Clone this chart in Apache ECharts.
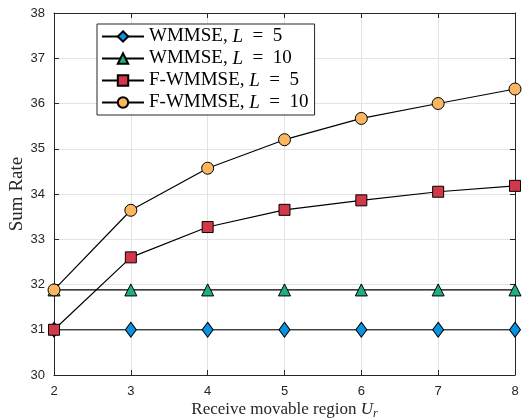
<!DOCTYPE html>
<html>
<head>
<meta charset="utf-8">
<script src="https://cdn.jsdelivr.net/npm/echarts@6/dist/echarts.min.js"></script>
<style>
html,body{margin:0;padding:0;background:#fff;}
#chart{width:525px;height:418px;}
</style>
</head>
<body>
<div id="chart"></div>
<script>
var xValues = [2, 3, 4, 5, 6, 7, 8];
var wmmseL5 = [31.0, 31.0, 31.0, 31.0, 31.0, 31.0, 31.0];
var wmmseL10 = [31.88, 31.88, 31.88, 31.88, 31.88, 31.88, 31.88];
var fwmmseL5 = [31.0, 32.6, 33.27, 33.65, 33.86, 34.05, 34.18];
var fwmmseL10 = [31.88, 33.64, 34.57, 35.2, 35.67, 36.0, 36.32];
var seriesNames = ['WMMSE, L = 5', 'WMMSE, L = 10', 'F-WMMSE, L = 5', 'F-WMMSE, L = 10'];

function pairs(ys) {
    return xValues.map(function (x, i) { return [x, ys[i]]; });
}

var serif = 'Liberation Serif';
var tickFont = {color: '#262626', fontSize: 13, fontFamily: 'Liberation Sans'};

function mk(name, ys, symbol, size, color) {
    return {
        name: name,
        type: 'line',
        data: pairs(ys),
        symbol: symbol,
        symbolSize: size,
        showAllSymbol: true,
        lineStyle: {color: '#000', width: 1.2},
        itemStyle: {color: color, borderColor: '#000', borderWidth: 1},
        emphasis: {disabled: true},
        z: 3
    };
}

var myChart = echarts.init(document.getElementById('chart'), null, {renderer: 'canvas'});
myChart.setOption({
    animation: false,
    backgroundColor: '#fff',
    grid: {left: 54, right: 10, top: 13, bottom: 43, containLabel: false, outerBoundsMode: 'none'},
    legend: {
        left: 97, top: 24,
        orient: 'vertical',
        backgroundColor: '#fff',
        borderColor: '#262626',
        borderWidth: 1,
        borderRadius: 0,
        padding: [3, 6, 3, 4],
        itemGap: 3,
        itemWidth: 42,
        itemHeight: 13,
        data: seriesNames,
        formatter: function (n) {
            var p = n.split('L = ');
            return '{t|' + p[0] + '}{i|L}{t|\u2002=\u2002' + p[1] + '}';
        },
        textStyle: {
            rich: {
                t: {fontFamily: serif, fontSize: 19, color: '#000'},
                i: {fontFamily: serif, fontSize: 19, fontStyle: 'italic', color: '#000'}
            }
        }
    },
    xAxis: [{
        type: 'value', min: 2, max: 8, interval: 1,
        name: '{t|Receive movable region }{i|U}{s|r}',
        nameLocation: 'middle', nameGap: 25, nameMoveOverlap: false,
        nameTextStyle: {
            rich: {
                t: {fontFamily: serif, fontSize: 17, color: '#262626'},
                i: {fontFamily: serif, fontSize: 17, fontStyle: 'italic', color: '#262626'},
                s: {fontFamily: serif, fontSize: 12, fontStyle: 'italic', color: '#262626', padding: [8, 0, 0, 0]}
            }
        },
        axisLine: {lineStyle: {color: '#262626', width: 1}},
        axisTick: {inside: true, length: 5, lineStyle: {color: '#262626'}},
        axisLabel: Object.assign({margin: 10}, tickFont),
        splitLine: {lineStyle: {color: '#e3e3e3', width: 1}}
    }, {
        type: 'value', min: 2, max: 8, interval: 1, position: 'top',
        axisLine: {lineStyle: {color: '#262626', width: 1}},
        axisTick: {inside: true, length: 5, lineStyle: {color: '#262626'}},
        axisLabel: {show: false},
        splitLine: {show: false}
    }],
    yAxis: [{
        type: 'value', min: 30, max: 38, interval: 1,
        name: 'Sum Rate',
        nameLocation: 'middle', nameGap: 27, nameMoveOverlap: false,
        nameTextStyle: {fontFamily: serif, fontSize: 19, color: '#262626'},
        axisLine: {show: true, lineStyle: {color: '#262626', width: 1}},
        axisTick: {show: true, inside: true, length: 5, lineStyle: {color: '#262626'}},
        axisLabel: Object.assign({margin: 9}, tickFont),
        splitLine: {lineStyle: {color: '#e3e3e3', width: 1}}
    }, {
        type: 'value', min: 30, max: 38, interval: 1, position: 'right',
        axisLine: {show: true, lineStyle: {color: '#262626', width: 1}},
        axisTick: {show: true, inside: true, length: 5, lineStyle: {color: '#262626'}},
        axisLabel: {show: false},
        splitLine: {show: false}
    }],
    series: [
        mk(seriesNames[0], wmmseL5, 'diamond', [11, 15], '#0b93e3'),
        mk(seriesNames[1], wmmseL10, 'triangle', 12, '#1ead84'),
        mk(seriesNames[2], fwmmseL5, 'rect', 11, '#d2374a'),
        mk(seriesNames[3], fwmmseL10, 'circle', 12, '#fcb660')
    ]
});
</script>
</body>
</html>
